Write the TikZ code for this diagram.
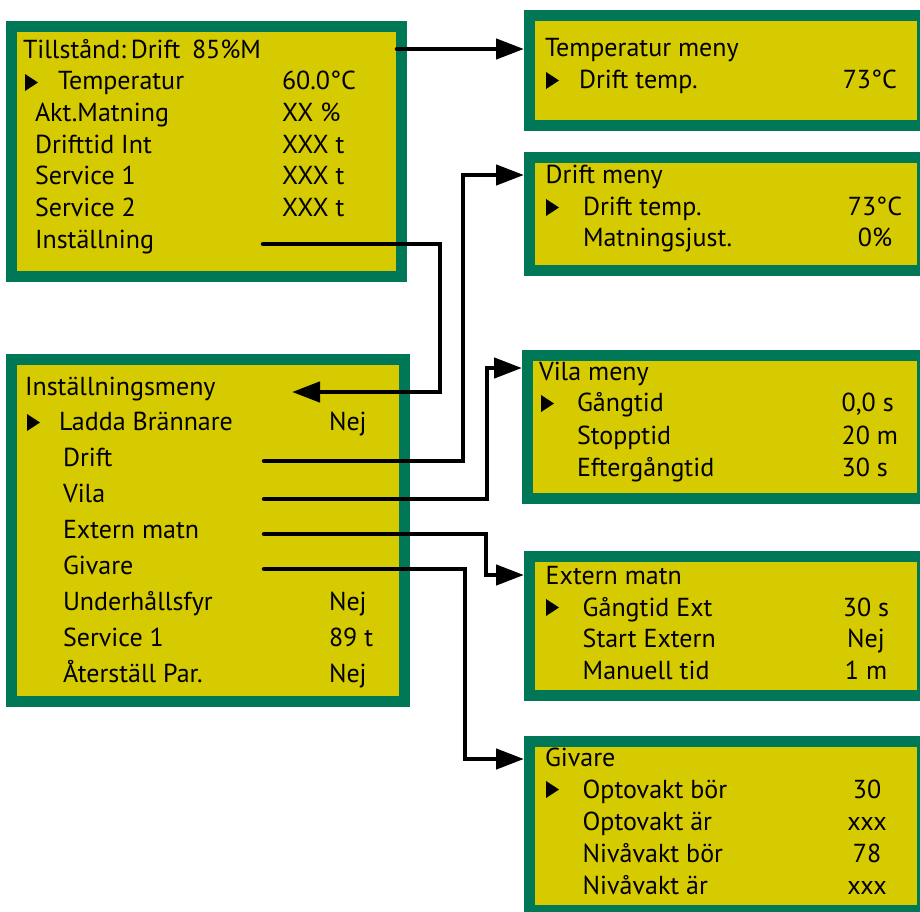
\documentclass[tikz,border=0pt]{standalone}
\usepackage{fontspec}
\setmainfont{PT Sans}
\usetikzlibrary{arrows.meta}
\definecolor{panelgreen}{RGB}{0,120,88}
\definecolor{panelyellow}{RGB}{214,202,0}
\tikzset{
  panel/.style={draw=panelgreen, fill=panelyellow, line width=11pt, outer sep=5.5pt, inner sep=0pt},
  lbl/.style={anchor=base west, inner sep=0pt, outer sep=0pt, font=\fontsize{26}{30}\selectfont},
  lblr/.style={lbl, anchor=base east},
  lblc/.style={lbl, anchor=base},
  conn/.style={line width=4.5pt, line cap=round, -{Triangle[length=28pt,width=20pt]}},
  cursor/.pic={\fill[black] (0,0) -- (0,17) -- (13,8.5) -- cycle;}
}
\begin{document}
\begin{tikzpicture}[x=1pt,y=-1pt]
\useasboundingbox (0,0) rectangle (920,911);

% panels
\node[panel, minimum width=390pt, minimum height=250pt] (b1) at (206.5,151.5) {};
\node[panel, minimum width=393pt, minimum height=342pt] (b2) at (208,530.5) {};
\node[panel, minimum width=393pt, minimum height=110pt] (b3) at (726,70.5) {};
\node[panel, minimum width=393pt, minimum height=113pt] (b4) at (726,214) {};
\node[panel, minimum width=395pt, minimum height=143pt] (b5) at (725,427) {};
\node[panel, minimum width=393pt, minimum height=139pt] (b6) at (726,626) {};
\node[panel, minimum width=393pt, minimum height=169pt] (b7) at (726,826) {};

% panel 1
\node[lbl] (h1) at (23,58) {Tillstånd:\hspace{0.18em}Drift\hspace{0.45em}85\%M};
\pic at (25,74) {cursor};
\node[lbl] (r1a) at (58,89.7) {Temperatur};   \node[lbl] (v1a) at (282,89.7) {60.0°C};
\node[lbl] (r1b) at (35,121.4) {Akt.Matning}; \node[lbl] (v1b) at (282,121.4) {XX \%};
\node[lbl] (r1c) at (35,153.1) {Drifttid Int}; \node[lbl] (v1c) at (282,153.1) {XXX t};
\node[lbl] (r1d) at (35,184.8) {Service 1};   \node[lbl] (v1d) at (282,184.8) {XXX t};
\node[lbl] (r1e) at (35,216.5) {Service 2};   \node[lbl] (v1e) at (282,216.5) {XXX t};
\node[lbl] (r1f) at (35,248.2) {Inställning};

% panel 2
\node[lbl] (h2) at (25,395) {Inställningsmeny};
\pic at (27,414) {cursor};
\node[lbl] (r2a) at (59,430.7) {Ladda Brännare}; \node[lbl] (v2a) at (329,430.7) {Nej};
\node[lbl] (r2b) at (63,466.7) {Drift};
\node[lbl] (r2c) at (63,502.7) {Vila};
\node[lbl] (r2d) at (63,538.7) {Extern matn};
\node[lbl] (r2e) at (63,574.7) {Givare};
\node[lbl] (r2f) at (63,610.7) {Underhållsfyr}; \node[lbl] (v2f) at (329,610.7) {Nej};
\node[lbl] (r2g) at (63,646.7) {Service 1};     \node[lbl] (v2g) at (329,646.7) {89 t};
\node[lbl] (r2h) at (63,682.7) {Återställ Par.}; \node[lbl] (v2h) at (329,682.7) {Nej};

% panel 3
\node[lbl] (h3) at (545,56.7) {Temperatur meny};
\pic at (546,72) {cursor};
\node[lbl] (r3a) at (579,88.3) {Drift temp.}; \node[lblr] (v3a) at (897,88.3) {73°C};

% panel 4
\node[lbl] (h4) at (545.7,183.3) {Drift meny};
\pic at (546,199) {cursor};
\node[lbl] (r4a) at (583,215) {Drift temp.};    \node[lblc] (v4a) at (875,215) {73°C};
\node[lbl] (r4b) at (583,246.7) {Matningsjust.}; \node[lblc] (v4b) at (875,246.7) {0\%};

% panel 5
\node[lbl] (h5) at (539,380) {Vila meny};
\pic at (541,395) {cursor};
\node[lbl] (r5a) at (577,411.7) {Gångtid};      \node[lbl] (v5a) at (841.7,411.7) {0,0 s};
\node[lbl] (r5b) at (577,444) {Stopptid};       \node[lbl] (v5b) at (841.7,444) {20 m};
\node[lbl] (r5c) at (577,476) {Eftergångtid};   \node[lbl] (v5c) at (841.7,476) {30 s};

% panel 6
\node[lbl] (h6) at (545.7,584.3) {Extern matn};
\pic at (546,599) {cursor};
\node[lbl] (r6a) at (582.7,616) {Gångtid Ext};    \node[lblc] (v6a) at (866,616) {30 s};
\node[lbl] (r6b) at (582.7,647.3) {Start Extern}; \node[lblc] (v6b) at (866,647.3) {Nej};
\node[lbl] (r6c) at (582.7,679.3) {Manuell tid};  \node[lblc] (v6c) at (866,679.3) {1 m};

% panel 7
\node[lbl] (h7) at (545,766.7) {Givare};
\pic at (546,781) {cursor};
\node[lbl] (r7a) at (582.7,798.3) {Optovakt bör}; \node[lblc] (v7a) at (867,798.3) {30};
\node[lbl] (r7b) at (582.7,830) {Optovakt är};   \node[lblc] (v7b) at (867,830) {xxx};
\node[lbl] (r7c) at (582.7,862.3) {Nivåvakt bör}; \node[lblc] (v7c) at (867,862.3) {78};
\node[lbl] (r7d) at (582.7,894) {Nivåvakt är};   \node[lblc] (v7d) at (867,894) {xxx};

% connector anchors
\coordinate (s1) at (397,49);
\coordinate (s2) at (263,244); \coordinate (k2) at (440,0); \coordinate (t2) at (292,392);
\coordinate (s3) at (264,461); \coordinate (k3) at (463,0); \path (b4.west) ++(0,-39) coordinate (e3);
\coordinate (s4) at (264,499); \coordinate (k4) at (487,0); \path (b5.west) ++(0,-59) coordinate (e4);
\coordinate (s5) at (264,534); \coordinate (k5) at (486,0); \path (b6.west) ++(0,-51) coordinate (e5);
\coordinate (s6) at (264,569); \coordinate (k6) at (465,0); \path (b7.west) ++(0,-67) coordinate (e6);

% connectors
\draw[conn] (s1) -- (b3.west |- s1);
\draw[conn] (s2) -- (s2 -| k2) |- (t2);
\draw[conn] (s3) -- (s3 -| k3) |- (e3);
\draw[conn] (s4) -- (s4 -| k4) |- (e4);
\draw[conn] (s5) -- (s5 -| k5) |- (e5);
\draw[conn] (s6) -- (s6 -| k6) |- (e6);
\end{tikzpicture}
\end{document}
